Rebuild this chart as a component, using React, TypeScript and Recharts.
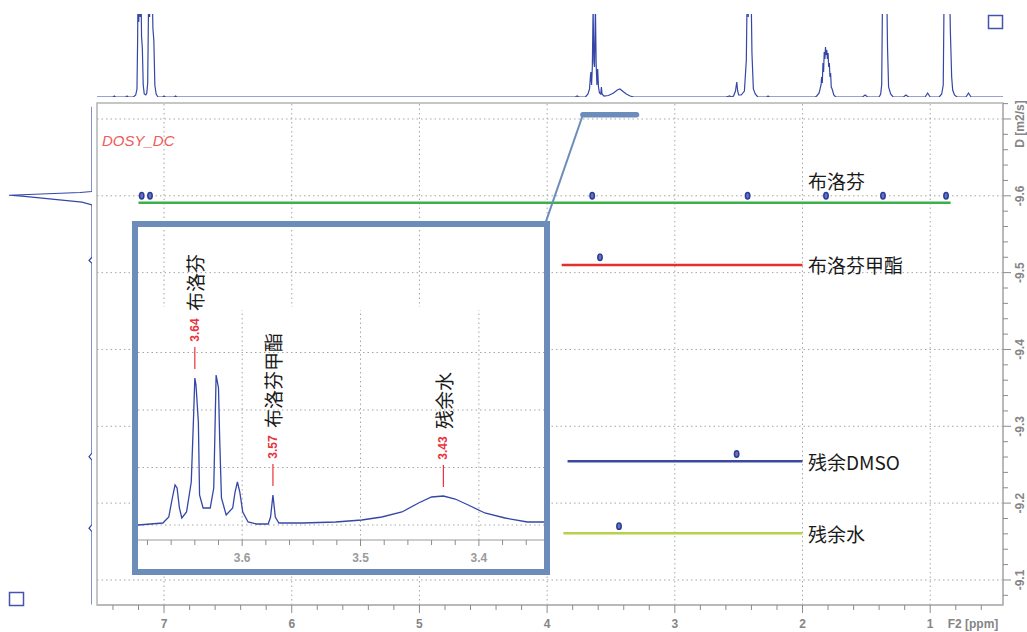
import React from "react"
import {
  ComposedChart,
  Line,
  Scatter,
  XAxis,
  YAxis,
  ReferenceLine,
  ReferenceArea,
} from "recharts"

// F2 chemical shift axis (ppm), drawn high-to-low
const ppmDomain: [number, number] = [0.43, 7.525]
const ppmMajor = [7, 6, 5, 4, 3, 2, 1]
const ppmMinor = [
  7.4, 7.2, 6.8, 6.6, 6.4, 6.2, 5.8, 5.6, 5.4, 5.2, 4.8, 4.6, 4.4, 4.2,
  3.8, 3.6, 3.4, 3.2, 2.8, 2.6, 2.4, 2.2, 1.8, 1.6, 1.4, 1.2, 0.8, 0.6,
]

// log D axis
const dDomain: [number, number] = [-9.7208, -9.0674]
const dMajor = [-9.7, -9.6, -9.5, -9.4, -9.3, -9.2, -9.1]
const dLabels = [-9.6, -9.5, -9.4, -9.3, -9.2, -9.1]
const dMinor = [
  -9.72, -9.68, -9.66, -9.64, -9.62, -9.58, -9.56, -9.54, -9.52, -9.48,
  -9.46, -9.44, -9.42, -9.38, -9.36, -9.34, -9.32, -9.28, -9.26, -9.24,
  -9.22, -9.18, -9.16, -9.14, -9.12, -9.08,
]

// DOSY cross peaks (ppm, log D)
const crossPeaks = [
  { ppm: 7.175, d: -9.6 },
  { ppm: 7.11, d: -9.6 },
  { ppm: 3.647, d: -9.6 },
  { ppm: 2.43, d: -9.6 },
  { ppm: 1.816, d: -9.6 },
  { ppm: 1.37, d: -9.6 },
  { ppm: 0.876, d: -9.6 },
  { ppm: 3.586, d: -9.52 },
  { ppm: 2.516, d: -9.264 },
  { ppm: 3.437, d: -9.17 },
]

// diffusion level of each component
const compounds = [
  { name: "布洛芬", d: -9.591, from: 7.2, to: 0.84, color: "#3cb04b" },
  { name: "布洛芬甲酯", d: -9.51, from: 3.886, to: 2.0, color: "#e3302f" },
  { name: "残余DMSO", d: -9.2546, from: 3.84, to: 2.0, color: "#3b4a9f" },
  { name: "残余水", d: -9.1608, from: 3.873, to: 2.0, color: "#b6d24a" },
]
const LABEL_PPM = 1.957

// expanded region marker and its leader
const zoomRange = [3.72, 3.3]
const zoomD = -9.7055
const leaderStart = { ppm: 4.01, d: -9.566 }

// 1D projection along F2 (ppm, intensity)
const topSpectrum = [
  [7.525, 0], [7.4, 0], [7.39, 1], [7.38, 0], [7.3, 0], [7.29, 1], [7.28, 0],
  [7.24, 0], [7.222, 2], [7.212, 8], [7.207, 55], [7.203, 120], [7.198, 75],
  [7.193, 120], [7.187, 80], [7.182, 120], [7.176, 60], [7.17, 49], [7.163, 12],
  [7.155, 3], [7.143, 2], [7.135, 4], [7.128, 14], [7.124, 62], [7.119, 120],
  [7.113, 80], [7.107, 120], [7.101, 85], [7.095, 120], [7.087, 68], [7.08, 57],
  [7.072, 12], [7.062, 3], [7.047, 0], [7.01, 0], [7.0, 1], [6.99, 0], [6.92, 0],
  [6.91, 1], [6.9, 0],
  [3.78, 0], [3.765, 1], [3.75, 0], [3.7, 0], [3.68, 3], [3.668, 8], [3.66, 22],
  [3.657, 25], [3.652, 12], [3.646, 30], [3.64, 89], [3.634, 35], [3.629, 30],
  [3.622, 91], [3.616, 33], [3.61, 12], [3.604, 28], [3.598, 10], [3.59, 4],
  [3.58, 3], [3.575, 10], [3.57, 3], [3.555, 1], [3.52, 1.5], [3.48, 4], [3.45, 7],
  [3.43, 8], [3.41, 6], [3.38, 3], [3.35, 1], [3.32, 0],
  [2.6, 0], [2.57, 1], [2.56, 0], [2.54, 1], [2.525, 6], [2.515, 15], [2.508, 6],
  [2.5, 2], [2.48, 2], [2.455, 6], [2.44, 37], [2.432, 120], [2.425, 80],
  [2.418, 120], [2.41, 90], [2.404, 120], [2.396, 44], [2.385, 8], [2.37, 3],
  [2.35, 0], [2.28, 0], [2.27, 1], [2.26, 0],
  [1.9, 0], [1.889, 1], [1.87, 4], [1.855, 12], [1.85, 20], [1.845, 14],
  [1.84, 34], [1.835, 25], [1.83, 45], [1.825, 38], [1.82, 50], [1.815, 42],
  [1.81, 47], [1.805, 38], [1.8, 44], [1.795, 30], [1.79, 34], [1.785, 20],
  [1.78, 24], [1.775, 10], [1.768, 8], [1.755, 2], [1.74, 0],
  [1.53, 0], [1.51, 2], [1.49, 0],
  [1.4, 0], [1.388, 3], [1.38, 12], [1.372, 120], [1.365, 90], [1.358, 120],
  [1.35, 95], [1.342, 120], [1.334, 48], [1.326, 10], [1.31, 3], [1.29, 0],
  [1.21, 0], [1.19, 2], [1.17, 0], [1.04, 0], [1.02, 4], [1.0, 0],
  [0.93, 0], [0.91, 3], [0.898, 12], [0.89, 120], [0.88, 95], [0.87, 120],
  [0.86, 100], [0.85, 120], [0.842, 65], [0.832, 20], [0.824, 7], [0.81, 2],
  [0.79, 0], [0.72, 0], [0.7, 4], [0.68, 0], [0.43, 0],
].map(([ppm, i]) => ({ ppm, i }))

// 1D projection along D (log D, intensity)
const sideSpectrum = [
  [-9.716, 0], [-9.6056, 0], [-9.6043, 12], [-9.6007, 83], [-9.5995, 70],
  [-9.5918, 10], [-9.5883, 0], [-9.52, 0], [-9.5158, 3], [-9.512, 0],
  [-9.265, 0], [-9.2605, 3], [-9.256, 0], [-9.172, 0], [-9.1673, 3],
  [-9.163, 0], [-9.068, 0],
].map(([d, i]) => ({ d, i }))

// expanded 1H region
const insetDomain: [number, number] = [3.345, 3.688]
const insetMajor = [3.6, 3.5, 3.4]
const insetMinor = [3.68, 3.66, 3.64, 3.62, 3.58, 3.56, 3.54, 3.52, 3.48, 3.46, 3.44, 3.42, 3.38, 3.36]
const insetGridI = [0, 57.5, 115, 172.5]
const insetSpectrum = [
  [3.688, 0], [3.667, 2], [3.662, 8], [3.659, 27], [3.6567, 40], [3.655, 37],
  [3.653, 17], [3.651, 7], [3.647, 13], [3.643, 43], [3.641, 110], [3.64, 147],
  [3.639, 140], [3.637, 103], [3.636, 30], [3.633, 17], [3.627, 17], [3.624, 37],
  [3.623, 93], [3.622, 150], [3.62, 137], [3.619, 87], [3.6175, 27], [3.6135, 10],
  [3.608, 17], [3.606, 33], [3.604, 43], [3.602, 33], [3.5995, 13], [3.595, 3],
  [3.588, 1], [3.578, 1], [3.576, 8], [3.574, 30], [3.572, 8], [3.569, 2],
  [3.549, 2], [3.521, 3], [3.499, 5], [3.482, 8], [3.465, 13], [3.451, 22],
  [3.44, 28], [3.43, 29], [3.42, 26], [3.409, 20], [3.395, 12], [3.378, 7],
  [3.359, 3], [3.345, 3],
].map(([ppm, i]) => ({ ppm, i }))
const insetPeaks = [
  { ppm: 3.64, i: 147, name: "布洛芬" },
  { ppm: 3.574, i: 30, name: "布洛芬甲酯" },
  { ppm: 3.43, i: 29, name: "残余水" },
]

const SPEC = "#3547a6"
const FRAME = "#b4b4b4"
const GRID = "#a6a6a6"
const BOX = "#6c8cba"
const AXIS_FONT = "'Liberation Sans Narrow', 'Liberation Sans', Arial, sans-serif"
const CJK = "'Noto Sans CJK SC', 'Noto Sans', sans-serif"

function PpmTick({ x, y, payload }: any) {
  const major = ppmMajor.includes(payload.value)
  return (
    <g>
      <line x1={x} x2={x} y1={y} y2={y + (major ? 8 : 5)} stroke="#8c8c8c" />
      {major && (
        <text x={x} y={y + 23} textAnchor="middle" fontSize={12} fontWeight="bold"
          fill="#858585" fontFamily={AXIS_FONT}>
          {payload.value}
        </text>
      )}
    </g>
  )
}

function DTick({ x, y, payload }: any) {
  const v = payload.value
  const major = dMajor.includes(v)
  const cx = x + 17
  return (
    <g>
      <line x1={x} x2={x + (major ? 8 : 5)} y1={y} y2={y} stroke="#8c8c8c" />
      {dLabels.includes(v) && (
        <text x={cx} y={y} transform={`rotate(-90 ${cx} ${y})`} textAnchor="middle"
          dominantBaseline="central" fontSize={12} fontWeight="bold" fill="#858585"
          fontFamily={AXIS_FONT}>
          {v.toFixed(1)}
        </text>
      )}
    </g>
  )
}

function InsetTick({ x, y, payload }: any) {
  const major = insetMajor.includes(payload.value)
  return (
    <g>
      <line x1={x} x2={x} y1={y} y2={y + (major ? 6 : 5)} stroke="#8c8c8c" />
      {major && (
        <text x={x} y={y + 22} textAnchor="middle" fontSize={12} fontWeight="bold"
          fill="#9a9a9a" fontFamily={AXIS_FONT}>
          {payload.value.toFixed(1)}
        </text>
      )}
    </g>
  )
}

function Blob({ cx, cy }: any) {
  return (
    <ellipse cx={cx} cy={cy} rx={2.2} ry={3.2} fill="#6472bf" stroke="#2c3c98" strokeWidth={1.5} />
  )
}

function CompoundLabel({ cx, cy, payload }: any) {
  const y = payload.above ? cy - 22 : cy
  return (
    <text x={cx} y={y} dominantBaseline="central" fontSize={19} fill="#1a1a1a" fontFamily={CJK}>
      {payload.name}
    </text>
  )
}

function PeakLabel({ cx, cy, payload }: any) {
  const lineBottom = cy - 9
  const lineTop = cy - 31
  const numY = lineTop - 17
  const nameY = numY - 19
  return (
    <g>
      <line x1={cx} x2={cx} y1={lineBottom} y2={lineTop} stroke="#e8323c" strokeWidth={1.2} />
      <text x={cx} y={numY} transform={`rotate(-90 ${cx} ${numY})`} textAnchor="middle"
        dominantBaseline="central" fontSize={12} fontWeight="bold" fill="#e8323c"
        fontFamily={AXIS_FONT}>
        {payload.ppm.toFixed(2)}
      </text>
      <text x={cx} y={nameY} transform={`rotate(-90 ${cx} ${nameY})`} textAnchor="start"
        dominantBaseline="central" fontSize={19} fill="#1a1a1a" fontFamily={CJK}>
        {payload.name}
      </text>
    </g>
  )
}

const labelPoints = compounds.map((c) => ({
  ppm: LABEL_PPM,
  d: c.d,
  name: c.name,
  above: c.to < LABEL_PPM,
}))

export default function App() {
  return (
    <div style={{ position: "absolute", left: 0, top: 0, width: 1027, height: 632, background: "#fff", overflow: "hidden" }}>
      {/* 2D DOSY plot */}
      <div style={{ position: "absolute", left: 0, top: 0 }}>
        <ComposedChart width={1027} height={632} margin={{ top: 103, right: 0, bottom: 0, left: 97 }}>
          <XAxis type="number" dataKey="ppm" domain={ppmDomain} reversed allowDataOverflow
            ticks={[...ppmMajor, ...ppmMinor]} interval={0} tickSize={0} tickMargin={0}
            tick={<PpmTick />} height={27} axisLine={{ stroke: FRAME, strokeWidth: 1.5 }} />
          <YAxis type="number" dataKey="d" orientation="right" domain={dDomain} reversed
            allowDataOverflow ticks={[...dMajor, ...dMinor]} interval={0} tickSize={0}
            tickMargin={0} tick={<DTick />} width={24} axisLine={{ stroke: FRAME, strokeWidth: 1.5 }} />
          {ppmMajor.map((p) => (
            <ReferenceLine key={`vx${p}`} x={p} stroke={GRID} strokeDasharray="1.5 3" />
          ))}
          {dMajor.map((d) => (
            <ReferenceLine key={`hy${d}`} y={d} stroke={GRID} strokeDasharray="1.5 3" />
          ))}
          <ReferenceArea x1={ppmDomain[1]} x2={ppmDomain[0]} y1={dDomain[0]} y2={dDomain[1]}
            ifOverflow="visible" fill="none" stroke={FRAME} strokeWidth={1.5} />
          {compounds.map((c) => (
            <Line key={c.name} data={[{ ppm: c.from, d: c.d }, { ppm: c.to, d: c.d }]}
              dataKey="d" stroke={c.color} strokeWidth={2.5} dot={false} activeDot={false}
              isAnimationActive={false} />
          ))}
          <Line data={[leaderStart, { ppm: zoomRange[0], d: zoomD }]} dataKey="d" stroke={BOX}
            strokeWidth={2} dot={false} activeDot={false} isAnimationActive={false} />
          <Line data={zoomRange.map((p) => ({ ppm: p, d: zoomD }))} dataKey="d" stroke={BOX}
            strokeWidth={5.5} strokeLinecap="round" dot={false} activeDot={false}
            isAnimationActive={false} />
          <Scatter data={crossPeaks} dataKey="d" shape={<Blob />} isAnimationActive={false} />
          <Scatter data={labelPoints} dataKey="d" shape={<CompoundLabel />} isAnimationActive={false} />
        </ComposedChart>
      </div>

      {/* F2 projection */}
      <div style={{ position: "absolute", left: 0, top: 0 }}>
        <ComposedChart width={1027} height={98} margin={{ top: 14, right: 24, bottom: 1, left: 97 }}>
          <XAxis type="number" dataKey="ppm" domain={ppmDomain} reversed allowDataOverflow hide />
          <YAxis type="number" dataKey="i" domain={[0, 83]} allowDataOverflow hide />
          <Line data={topSpectrum} dataKey="i" stroke={SPEC} strokeWidth={1.2} dot={false}
            activeDot={false} isAnimationActive={false} />
        </ComposedChart>
      </div>

      {/* D projection (vertical layout already runs the D axis top-down) */}
      <div style={{ position: "absolute", left: 0, top: 0 }}>
        <ComposedChart layout="vertical" width={100} height={632} margin={{ top: 103, right: 8, bottom: 27, left: 9 }}>
          <XAxis type="number" domain={[0, 83]} reversed allowDataOverflow hide />
          <YAxis type="number" dataKey="d" domain={dDomain} allowDataOverflow hide />
          <Line data={sideSpectrum} dataKey="i" stroke={SPEC} strokeWidth={1.2} dot={false}
            activeDot={false} isAnimationActive={false} />
        </ComposedChart>
      </div>

      {/* expanded 3.3-3.7 ppm region */}
      <div style={{ position: "absolute", left: 132, top: 221, width: 418, height: 354, border: `6px solid ${BOX}`, boxSizing: "border-box" }}>
        <div style={{ position: "absolute", left: 0, right: 0, top: 80, bottom: 0, background: "#fff" }} />
        <div style={{ position: "absolute", left: 0, top: 0 }}>
          <ComposedChart width={406} height={342} margin={{ top: 0, right: 0, bottom: 0, left: 0 }}>
            <XAxis type="number" dataKey="ppm" domain={insetDomain} reversed allowDataOverflow
              ticks={[...insetMajor, ...insetMinor]} interval={0} tickSize={0} tickMargin={0}
              tick={<InsetTick />} height={29} axisLine={{ stroke: "#9a9a9a" }} />
            <YAxis type="number" dataKey="i" domain={[-15, 298]} allowDataOverflow hide />
            {insetMajor.map((p) => (
              <ReferenceLine key={`ix${p}`} segment={[{ x: p, y: -15 }, { x: p, y: 215 }]}
                stroke={GRID} strokeDasharray="1.5 3" />
            ))}
            {insetGridI.map((v) => (
              <ReferenceLine key={`iy${v}`} y={v} stroke={GRID} strokeDasharray="1.5 3" />
            ))}
            <Line data={insetSpectrum} dataKey="i" stroke={SPEC} strokeWidth={1.3} dot={false}
              activeDot={false} isAnimationActive={false} />
            <Scatter data={insetPeaks} dataKey="i" shape={<PeakLabel />} isAnimationActive={false} />
          </ComposedChart>
        </div>
      </div>

      {/* titles and corner markers */}
      <svg width={1027} height={632} style={{ position: "absolute", left: 0, top: 0, pointerEvents: "none" }}>
        <text x={102} y={146} fontSize={15} fontStyle="italic" fill="#f25a5a"
          fontFamily="'Liberation Sans', Arial, sans-serif">
          DOSY_DC
        </text>
        <text x={1020} y={124} transform="rotate(-90 1020 124)" textAnchor="middle"
          dominantBaseline="central" fontSize={12} fontWeight="bold" fill="#858585"
          fontFamily={AXIS_FONT}>
          D [m2/s]
        </text>
        <text x={973} y={628} textAnchor="middle" fontSize={12} fontWeight="bold"
          fill="#858585" fontFamily={AXIS_FONT}>
          F2 [ppm]
        </text>
        <rect x={988.5} y={15.5} width={14} height={13} fill="none" stroke="#4354aa" strokeWidth={1.5} />
        <rect x={9.5} y={592.5} width={14} height={13} fill="none" stroke="#4354aa" strokeWidth={1.5} />
      </svg>
    </div>
  )
}
